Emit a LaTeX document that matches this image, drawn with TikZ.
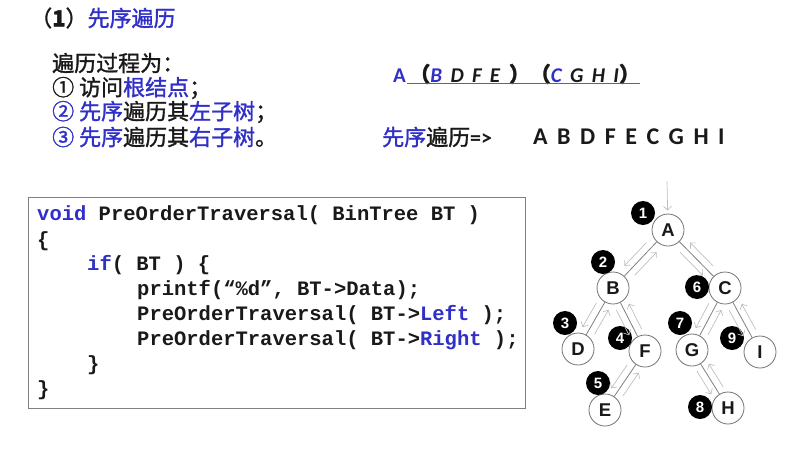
\documentclass[tikz,border=0pt]{standalone}
\usepackage{fontspec}
\setmainfont{Liberation Sans}
\setmonofont{Liberation Mono}
\newfontfamily\cjk[FakeBold=1.4]{Noto Sans CJK SC}
\newfontfamily\carl{Carlito}
\newfontfamily\carlwide[WordSpace=1.75]{Carlito}
\usetikzlibrary{positioning, calc, arrows.meta}
\definecolor{kw}{RGB}{48,48,200}
\definecolor{ink}{RGB}{25,25,25}

\begin{document}
\begin{tikzpicture}[
    x=1pt, y=-1pt,
    cjk_line/.style={anchor=west, inner sep=0pt, text=ink, font=\fontsize{22}{24}\selectfont\cjk},
    code/.style={anchor=west, inner sep=0pt, text=ink, font=\fontsize{20.5}{22}\selectfont\ttfamily\bfseries},
    code_box/.style={draw=black!50, line width=0.8pt},
    tnode/.style={circle, draw=black!55, fill=white, line width=0.8pt, minimum size=32pt, inner sep=0pt, text=ink, font=\fontsize{18.5}{18}\selectfont\bfseries},
    badge/.style={circle, fill=black, text=white, minimum size=24pt, inner sep=0pt, font=\fontsize{15}{15}\selectfont\bfseries},
    edge/.style={draw=black!50, line width=0.8pt},
    walk/.style={draw=black!25, line width=0.7pt, -{Straight Barb[length=4pt]},
        to path={($(\tikztostart)!.3!(\tikztotarget)!7pt!-90:(\tikztotarget)$) -- ($(\tikztostart)!.7!(\tikztotarget)!7pt!-90:(\tikztotarget)$)}}
]
    \useasboundingbox (0,0) rectangle (800,458);

    % Title and steps
    \node[cjk_line] (title) at (30,18) {（\textbf{1}）{\color{kw}先序遍历}};
    \node[cjk_line] (step0) at (52,63) {遍历过程为：};
    \node[cjk_line] (step1) at (52,88) {① 访问{\color{kw}根结点}；};
    \node[cjk_line] (step2) at (52,112) {{\color{kw}② 先序}遍历其{\color{kw}左子树}；};
    \node[cjk_line] (step3) at (52,137) {{\color{kw}③ 先序}遍历其{\color{kw}右子树}。};

    % Split of the sequence
    \node[anchor=base west, inner sep=0pt, text=ink, font=\fontsize{21}{21}\selectfont\carl\bfseries] (split) at (393,82)
        {{\color{kw}A}\,{\cjk （}\textit{{\color{kw}B} D F E} {\cjk ）（}\textit{{\color{kw}C} G H I}{\cjk ）}};
    \draw[draw=black!60, line width=1.3pt] ($(split.base west)+(14,1.5)$) -- ($(split.base east)+(0,1.5)$);
    \node[cjk_line] (result) at (382,137) {{\color{kw}先序}遍历{\carl\bfseries =>}};
    \node[anchor=west, inner sep=0pt, text=ink, font=\fontsize{24}{24}\selectfont\carlwide\bfseries] (order) at (533,137) {A B D F E C G H I};

    % Code
    \draw[code_box] (28,197) rectangle (525,408);
    \node[code] (c1) at (37,215) {{\color{kw}void} PreOrderTraversal( BinTree BT )};
    \node[code] (c2) at (37,241) {\{};
    \node[code] (c3) at (87,265) {{\color{kw}if}( BT ) \{};
    \node[code] (c4) at (137,290) {printf(“\%d”, BT->Data);};
    \node[code] (c5) at (137,315) {PreOrderTraversal( BT->{\color{kw}Left} );};
    \node[code] (c6) at (137,340) {PreOrderTraversal( BT->{\color{kw}Right} );};
    \node[code] (c7) at (87,365) {\}};
    \node[code] (c8) at (37,390) {\}};

    % Tree
    \node[tnode] (A) at (668,230) {A};
    \node[tnode] (B) at (613,288) {B};
    \node[tnode] (C) at (725,288) {C};
    \node[tnode] (D) at (578,349) {D};
    \node[tnode] (F) at (645,351) {F};
    \node[tnode] (G) at (692,350) {G};
    \node[tnode] (I) at (760,352) {I};
    \node[tnode] (E) at (605,410) {E};
    \node[tnode] (H) at (728,408) {H};
    \draw[edge] (A) -- (B);
    \draw[edge] (A) -- (C);
    \draw[edge] (B) -- (D);
    \draw[edge] (B) -- (F);
    \draw[edge] (F) -- (E);
    \draw[edge] (C) -- (G);
    \draw[edge] (C) -- (I);
    \draw[edge] (G) -- (H);

    % Visit order
    \node[badge] (n1) at (643,213) {1};
    \node[badge] (n2) at (603,262) {2};
    \node[badge] (n3) at (565,323) {3};
    \node[badge] (n4) at (620,338) {4};
    \node[badge] (n5) at (598,383) {5};
    \node[badge] (n6) at (697,287) {6};
    \node[badge] (n7) at (680,323) {7};
    \node[badge] (n8) at (700,407) {8};
    \node[badge] (n9) at (732,338) {9};

    % Walk around the tree
    \coordinate (entry) at (667,181);
    \draw[draw=black!25, line width=0.7pt, -{Straight Barb[length=4pt]}, shorten >=3pt] (entry) -- (A);
    \draw[walk] (A) to (B);
    \draw[walk] (B) to (A);
    \draw[walk] (A) to (C);
    \draw[walk] (C) to (A);
    \draw[walk] (B) to (D);
    \draw[walk] (D) to (B);
    \draw[walk] (B) to (F);
    \draw[walk] (F) to (B);
    \draw[walk] (F) to (E);
    \draw[walk] (E) to (F);
    \draw[walk] (C) to (G);
    \draw[walk] (G) to (C);
    \draw[walk] (C) to (I);
    \draw[walk] (I) to (C);
    \draw[walk] (G) to (H);
    \draw[walk] (H) to (G);

\end{tikzpicture}
\end{document}
